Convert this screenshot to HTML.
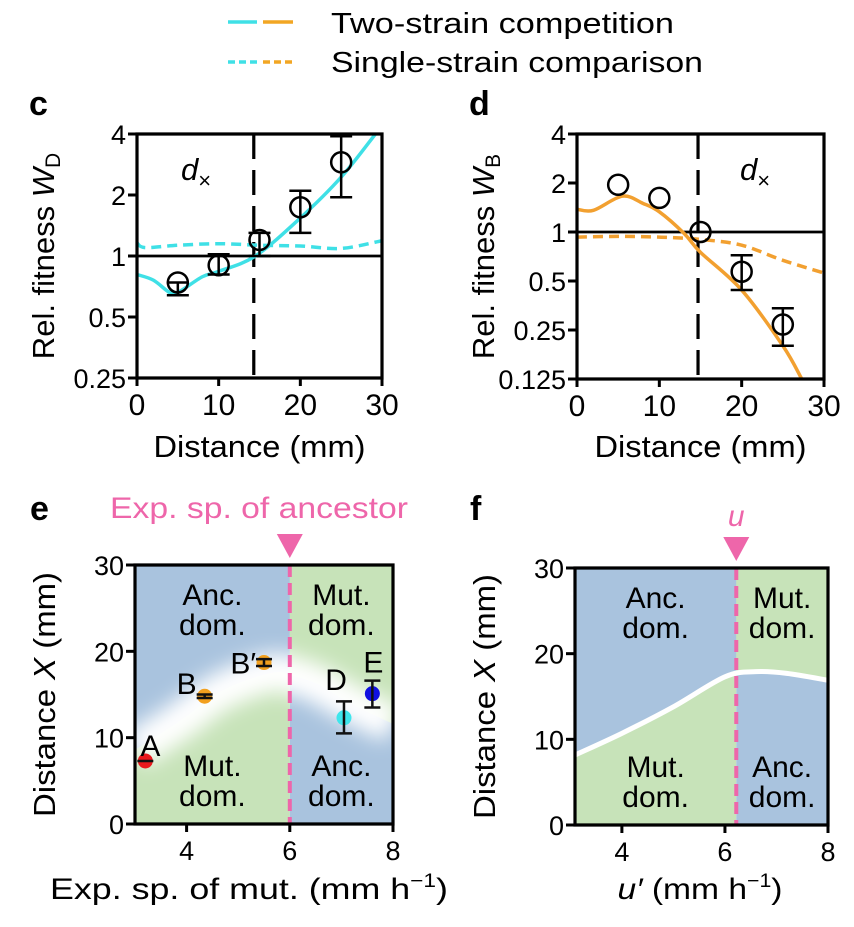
<!DOCTYPE html>
<html><head><meta charset="utf-8"><style>
html,body{margin:0;padding:0;background:#fff}
svg{display:block;font-family:"Liberation Sans",Arial,sans-serif}
</style></head><body>
<svg id="fig" width="854" height="927" viewBox="0 0 854 927" xmlns="http://www.w3.org/2000/svg">
<defs>
<filter id="blur" x="-20%" y="-50%" width="140%" height="200%"><feGaussianBlur stdDeviation="10"/></filter>
<clipPath id="clipc"><rect x="137" y="134" width="245" height="244"/></clipPath>
<clipPath id="clipd"><rect x="577" y="134" width="247" height="245"/></clipPath>
<clipPath id="clipe"><rect x="135" y="565" width="258" height="259"/></clipPath>
<clipPath id="clipf"><rect x="575" y="568" width="253" height="257"/></clipPath>
</defs>
<g>
<line x1="228" y1="22" x2="257" y2="22" stroke="#3fe0e6" stroke-width="3.5"/>
<line x1="263" y1="22" x2="293" y2="22" stroke="#f2a623" stroke-width="3.5"/>
<line x1="228" y1="62" x2="257" y2="62" stroke="#3fe0e6" stroke-width="3.5" stroke-dasharray="7,4"/>
<line x1="263" y1="62" x2="293" y2="62" stroke="#f2a623" stroke-width="3.5" stroke-dasharray="7,4"/>
<text x="331" y="33" font-size="29" textLength="343" lengthAdjust="spacingAndGlyphs">Two-strain competition</text>
<text x="331" y="72" font-size="29" textLength="372" lengthAdjust="spacingAndGlyphs">Single-strain comparison</text>
</g>
<g id="gc"></g>
<g id="gd"></g>
<g id="ge"></g>
<g id="gf"></g>
</svg>
<script>
// ---- panel c data ----
const cSolidX = [0, 2, 4, 5, 8, 10, 14.5, 20, 25, 29.2];
const cSolidY = [0.81, 0.76, 0.66, 0.66, 0.79, 0.84, 1.0, 1.54, 2.45, 4.0];
const cDashX = [0, 1, 5, 10, 15, 20, 25, 30];
const cDashY = [1.16, 1.1, 1.13, 1.15, 1.13, 1.12, 1.09, 1.19];
const cPtX = [5, 10, 15, 20, 25];
const cPtY = [0.74, 0.9, 1.2, 1.74, 2.9];
const cErrLo = [0.64, 0.81, 1.0, 1.3, 1.95];
const cErrHi = [0.74, 1.02, 1.3, 2.1, 3.9];
const cYTicks = [4, 2, 1, 0.5, 0.25];
const cYTickLabels = ["4", "2", "1", "0.5", "0.25"];
const xTicks = [0, 10, 20, 30];
// ---- panel d data ----
const dSolidX = [0, 2, 5.5, 8, 10, 13, 15, 20, 25, 27.3];
const dSolidY = [1.38, 1.36, 1.66, 1.5, 1.33, 0.98, 0.75, 0.44, 0.2, 0.125];
const dDashX = [0, 5, 10, 15, 20, 25, 30];
const dDashY = [0.93, 0.94, 0.93, 0.9, 0.83, 0.67, 0.56];
const dPtX = [5, 10, 15, 20, 25];
const dPtY = [1.95, 1.62, 1.0, 0.57, 0.27];
const dErrLo = [1.95, 1.62, 1.0, 0.44, 0.2];
const dErrHi = [1.95, 1.62, 1.0, 0.72, 0.34];
const dYTicks = [4, 2, 1, 0.5, 0.25, 0.125];
const dYTickLabels = ["4", "2", "1", "0.5", "0.25", "0.125"];
// ---- panel e data ----
const eBandX = [3, 3.5, 4, 4.5, 5, 5.5, 5.8, 6, 6.5, 7, 7.5, 8];
const eBandY = [8.6, 10.5, 12.5, 14.8, 16.3, 17.3, 17.6, 17.3, 16.3, 14.6, 13.0, 11.6];
const eLabels = ["A", "B", "B\u2032", "D", "E"];
const ePtX = [3.2, 4.35, 5.5, 7.05, 7.6];
const ePtY = [7.3, 14.8, 18.7, 12.3, 15.1];
const eErrLo = [7.3, 14.6, 18.3, 10.5, 13.5];
const eErrHi = [7.3, 15.0, 19.1, 14.2, 16.6];
const eColors = ["#e8191c", "#f2a01e", "#f2a01e", "#3ee6ec", "#1010e0"];
const eAncestor = 6;
const eTicksX = [4, 6, 8];
const yTicks30 = [0, 10, 20, 30];
// ---- panel f data ----
const fCurveX = [3.1, 4, 5, 6, 6.6, 7.2, 8];
const fCurveY = [8.2, 10.7, 13.8, 17.3, 17.9, 17.7, 16.9];
const fU = 6.22;

const NS = "http://www.w3.org/2000/svg";
function mk(parent, tag, attrs, txt) {
  const el = document.createElementNS(NS, tag);
  for (const k in attrs) el.setAttribute(k, attrs[k]);
  if (txt !== undefined) el.textContent = txt;
  parent.appendChild(el);
  return el;
}
function linX(x0, x1, p0, p1) { return v => p0 + (v - x0) / (x1 - x0) * (p1 - p0); }
function logY(v0, v1, p0, p1) { return v => p0 + (Math.log2(v) - Math.log2(v0)) / (Math.log2(v1) - Math.log2(v0)) * (p1 - p0); }
function smoothPath(xs, ys) {
  const pts = xs.map((x, i) => [x, ys[i]]);
  let d = "M" + pts[0][0].toFixed(1) + "," + pts[0][1].toFixed(1);
  for (let i = 0; i < pts.length - 1; i++) {
    const p0 = pts[Math.max(0, i - 1)], p1 = pts[i], p2 = pts[i + 1], p3 = pts[Math.min(pts.length - 1, i + 2)];
    const c1 = [p1[0] + (p2[0] - p0[0]) / 6, p1[1] + (p2[1] - p0[1]) / 6];
    const c2 = [p2[0] - (p3[0] - p1[0]) / 6, p2[1] - (p3[1] - p1[1]) / 6];
    d += "C" + c1.join(",") + " " + c2.join(",") + " " + p2.join(",");
  }
  return d;
}

function fitnessPanel(g, cfg) {
  const sx = linX(0, 30, cfg.L, cfg.R);
  const sy = logY(cfg.ymin, cfg.ymax, cfg.B, cfg.T);
  const letter = mk(g, "text", {x: cfg.L - 108, y: 115, "font-size": 34, "font-weight": "bold"}, cfg.letter);
  
  
  const cl = mk(g, "g", {"clip-path": cfg.clip});
  
  
  const h1 = mk(cl, "line", {x1: cfg.L, x2: cfg.R, y1: sy(1), y2: sy(1), stroke: "#000", "stroke-width": 2.8});
  
  
  const vd = mk(cl, "line", {x1: sx(cfg.dx), x2: sx(cfg.dx), y1: cfg.T, y2: cfg.B, stroke: "#000", "stroke-width": 3.2, "stroke-dasharray": "25,11"});
  
  
  const dl = mk(cl, "path", {d: smoothPath(cfg.dashX.map(sx), cfg.dashY.map(sy)), fill: "none", stroke: cfg.color, "stroke-width": 3.5, "stroke-dasharray": "10,6"});
  
  
  const sl = mk(cl, "path", {d: smoothPath(cfg.solidX.map(sx), cfg.solidY.map(sy)), fill: "none", stroke: cfg.color, "stroke-width": 3.5});
  
  
  cfg.ptX.forEach((x, i) => {
    const px = sx(x);
    if (cfg.hi[i] > cfg.lo[i]) {
      const e = mk(g, "path", {d: `M${px},${sy(cfg.hi[i])}V${sy(cfg.lo[i])}M${px-11},${sy(cfg.hi[i])}h22M${px-11},${sy(cfg.lo[i])}h22`, stroke: "#000", "stroke-width": 2.5, fill: "none"});
      
      
    }
    const c = mk(g, "circle", {cx: px, cy: sy(cfg.ptY[i]), r: 10, fill: "none", stroke: "#000", "stroke-width": 2.5});
    
    
  });
  const box = mk(g, "path", {d: `M${cfg.L},${cfg.T}H${cfg.R}V${cfg.B}H${cfg.L}Z`, fill: "none", stroke: "#000", "stroke-width": 3.2});
  
  
  cfg.yTicks.forEach((t, i) => {
    const y = sy(t);
    const tk = mk(g, "line", {x1: cfg.L - 9, x2: cfg.L, y1: y, y2: y, stroke: "#000", "stroke-width": 3});
    
    
    const tl = mk(g, "text", {x: cfg.L - 11, y: y + 10, "font-size": 27, "text-anchor": "end"}, cfg.yLabels[i]);
    
    
  });
  xTicks.forEach(t => {
    const x = sx(t);
    const tk = mk(g, "line", {x1: x, x2: x, y1: cfg.B, y2: cfg.B + 8, stroke: "#000", "stroke-width": 3});
    
    
    const tl = mk(g, "text", {x: x, y: cfg.B + 37, "font-size": 30, "text-anchor": "middle"}, String(t));
    
    
  });
  const xt = mk(g, "text", {x: (cfg.L + cfg.R) / 2, y: 457, "font-size": 31, "text-anchor": "middle", textLength: 212, lengthAdjust: "spacingAndGlyphs"}, "Distance (mm)");
  
  
  const yt = mk(g, "text", {transform: `translate(${cfg.L - 83},${(cfg.T + cfg.B) / 2}) rotate(-90)`, "font-size": 31, "text-anchor": "middle"});
  
  
  mk(yt, "tspan", {}, "Rel. fitness ");
  mk(yt, "tspan", {"font-style": "italic"}, "W");
  mk(yt, "tspan", {"font-size": 21, dy: 6}, cfg.sub);
  const dxl = mk(g, "text", {x: cfg.dxLabelX, y: 180, "font-size": 31, "font-style": "italic"}, "d");
  
  
  mk(dxl, "tspan", {"font-style": "normal", "font-size": 22, dy: 8}, "\u00d7");
}

fitnessPanel(document.getElementById("gc"), {L: 137, R: 382, T: 134, B: 378, ymin: 0.25, ymax: 4, clip: "url(#clipc)", letter: "c", dx: 14.3, color: "#3fe0e6",
  solidX: cSolidX, solidY: cSolidY, dashX: cDashX, dashY: cDashY, ptX: cPtX, ptY: cPtY, lo: cErrLo, hi: cErrHi, yTicks: cYTicks, yLabels: cYTickLabels, sub: "D", dxLabelX: 181});
fitnessPanel(document.getElementById("gd"), {L: 577, R: 824, T: 134, B: 379, ymin: 0.125, ymax: 4, clip: "url(#clipd)", letter: "d", dx: 14.7, color: "#f2a030",
  solidX: dSolidX, solidY: dSolidY, dashX: dDashX, dashY: dDashY, ptX: dPtX, ptY: dPtY, lo: dErrLo, hi: dErrHi, yTicks: dYTicks, yLabels: dYTickLabels, sub: "B", dxLabelX: 740});

const BLUE = "#a9c3de", GREEN = "#c7e3b9", PINK = "#ee66aa";
function phasePanel(g, cfg) {
  const sx = linX(cfg.xmin, 8, cfg.L, cfg.R);
  const sy = linX(0, 30, cfg.B, cfg.T);
  const letter = mk(g, "text", {x: cfg.L - 105, y: 520, "font-size": 34, "font-weight": "bold"}, cfg.letter);
  
  
  const cl = mk(g, "g", {"clip-path": cfg.clip});
  
  
  const xs = cfg.cx.map(sx), ys = cfg.cy.map(sy);
  const curve = smoothPath(xs, ys);
  const vx = sx(cfg.split);
  mk(cl, "rect", {x: cfg.L, y: cfg.T, width: vx - cfg.L, height: cfg.B - cfg.T, fill: GREEN});
  mk(cl, "rect", {x: vx, y: cfg.T, width: cfg.R - vx, height: cfg.B - cfg.T, fill: BLUE});
  const below = curve + `L${xs[xs.length-1]},${cfg.T}L${xs[0]},${cfg.T}Z`;
  const cp = mk(document.querySelector("defs"), "clipPath", {id: "lh" + cfg.letter});
  mk(cp, "rect", {x: cfg.L, y: cfg.T, width: vx - cfg.L, height: cfg.B - cfg.T});
  const cp2 = mk(document.querySelector("defs"), "clipPath", {id: "rh" + cfg.letter});
  mk(cp2, "rect", {x: vx, y: cfg.T, width: cfg.R - vx, height: cfg.B - cfg.T});
  const up1 = mk(cl, "path", {d: below, fill: BLUE, "clip-path": `url(#lh${cfg.letter})`});
  
  
  const up2 = mk(cl, "path", {d: below, fill: GREEN, "clip-path": `url(#rh${cfg.letter})`});
  
  
  const band = mk(cl, "path", {d: curve, fill: "none", stroke: "#fff", "stroke-width": cfg.blur ? 38 : 5, filter: cfg.blur ? "url(#blur)" : "none", opacity: 1});
  
  
  const vl = mk(cl, "line", {x1: vx, x2: vx, y1: cfg.T, y2: cfg.B, stroke: PINK, "stroke-width": 4, "stroke-dasharray": "12,6"});
  
  
  const labs = [["Anc.", "dom.", (cfg.L + vx) / 2, cfg.T + 40], ["Mut.", "dom.", (vx + cfg.R) / 2, cfg.T + 40], ["Mut.", "dom.", (cfg.L + vx) / 2, cfg.B - 48], ["Anc.", "dom.", (vx + cfg.R) / 2, cfg.B - 48]];
  labs.forEach(l => {
    const t = mk(g, "text", {x: l[2], y: l[3], "font-size": 30, "text-anchor": "middle"});
    
    
    mk(t, "tspan", {x: l[2]}, l[0]);
    mk(t, "tspan", {x: l[2], dy: 30}, l[1]);
  });
  const tri = mk(g, "path", {d: `M${vx-13},${cfg.T-31}h26l-13,24Z`, fill: PINK});
  
  
  const box = mk(g, "path", {d: `M${cfg.L},${cfg.T}H${cfg.R}V${cfg.B}H${cfg.L}Z`, fill: "none", stroke: "#000", "stroke-width": 3.2});
  
  
  yTicks30.forEach(t => {
    const y = sy(t);
    const tk = mk(g, "line", {x1: cfg.L - 9, x2: cfg.L, y1: y, y2: y, stroke: "#000", "stroke-width": 3});
    
    
    const tl = mk(g, "text", {x: cfg.L - 11, y: y + 10, "font-size": 27, "text-anchor": "end"}, String(t));
    
    
  });
  eTicksX.forEach(t => {
    const x = sx(t);
    const tk = mk(g, "line", {x1: x, x2: x, y1: cfg.B, y2: cfg.B + 8, stroke: "#000", "stroke-width": 3});
    
    
    const tl = mk(g, "text", {x: x, y: cfg.B + 36, "font-size": 27, "text-anchor": "middle"}, String(t));
    
    
  });
  const yt = mk(g, "text", {transform: `translate(${cfg.L - 80},${(cfg.T + cfg.B) / 2}) rotate(-90)`, "font-size": 31, "text-anchor": "middle", textLength: 245, lengthAdjust: "spacingAndGlyphs"});
  
  
  mk(yt, "tspan", {}, "Distance ");
  mk(yt, "tspan", {"font-style": "italic"}, "X");
  mk(yt, "tspan", {}, " (mm)");
  return {sx, sy, vx};
}

const eg = document.getElementById("ge");
const e = phasePanel(eg, {L: 135, R: 393, T: 565, B: 824, xmin: 3, letter: "e", cx: eBandX, cy: eBandY, split: eAncestor, clip: "url(#clipe)", blur: true});
const anc = mk(eg, "text", {x: 259, y: 518, "font-size": 30, fill: PINK, "text-anchor": "middle", textLength: 298, lengthAdjust: "spacingAndGlyphs"}, "Exp. sp. of ancestor");


ePtX.forEach((x, i) => {
  const px = e.sx(x), py = e.sy(ePtY[i]);
  const dot = mk(eg, "circle", {cx: px, cy: py, r: 7.5, fill: eColors[i]});
  
  
  const eb = mk(eg, "path", {d: `M${px},${e.sy(eErrHi[i])}V${e.sy(eErrLo[i])}M${px-8},${e.sy(eErrHi[i])}h16M${px-8},${e.sy(eErrLo[i])}h16`, stroke: "#111", "stroke-width": 2.5, fill: "none"});
  
  
  let lx, ly, anchor;
  if (i === 0) { lx = px - 5; ly = py - 5; anchor = "start"; }
  else if (i === 1) { lx = px - 8; ly = py - 2; anchor = "end"; }
  else if (i === 2) { lx = px - 8; ly = py + 11; anchor = "end"; }
  else if (i === 3) { lx = px + 3; ly = py - 28; anchor = "end"; }
  else { lx = px + 1; ly = py - 21; anchor = "middle"; }
  const lab = mk(eg, "text", {x: lx, y: ly, "font-size": 30, "text-anchor": anchor}, eLabels[i]);
  
  
});
const ext = mk(eg, "text", {x: 249, y: 899, "font-size": 30, "text-anchor": "middle", textLength: 398, lengthAdjust: "spacingAndGlyphs"});


mk(ext, "tspan", {}, "Exp. sp. of mut. (mm h");
mk(ext, "tspan", {"font-size": 19, dy: -12}, "\u22121");
mk(ext, "tspan", {dy: 12}, ")");

const fg = document.getElementById("gf");
const f = phasePanel(fg, {L: 575, R: 828, T: 568, B: 825, xmin: 3.09, letter: "f", cx: fCurveX, cy: fCurveY, split: fU, clip: "url(#clipf)", blur: false});
const ul = mk(fg, "text", {x: f.vx, y: 526, "font-size": 30, fill: PINK, "font-style": "italic", "text-anchor": "middle"}, "u");


const fxt = mk(fg, "text", {x: 700, y: 899, "font-size": 30, "text-anchor": "middle", textLength: 165, lengthAdjust: "spacingAndGlyphs"});


mk(fxt, "tspan", {"font-style": "italic"}, "u\u2032");
mk(fxt, "tspan", {}, " (mm h");
mk(fxt, "tspan", {"font-size": 19, dy: -12}, "\u22121");
mk(fxt, "tspan", {dy: 12}, ")");
</script>
</body></html>
